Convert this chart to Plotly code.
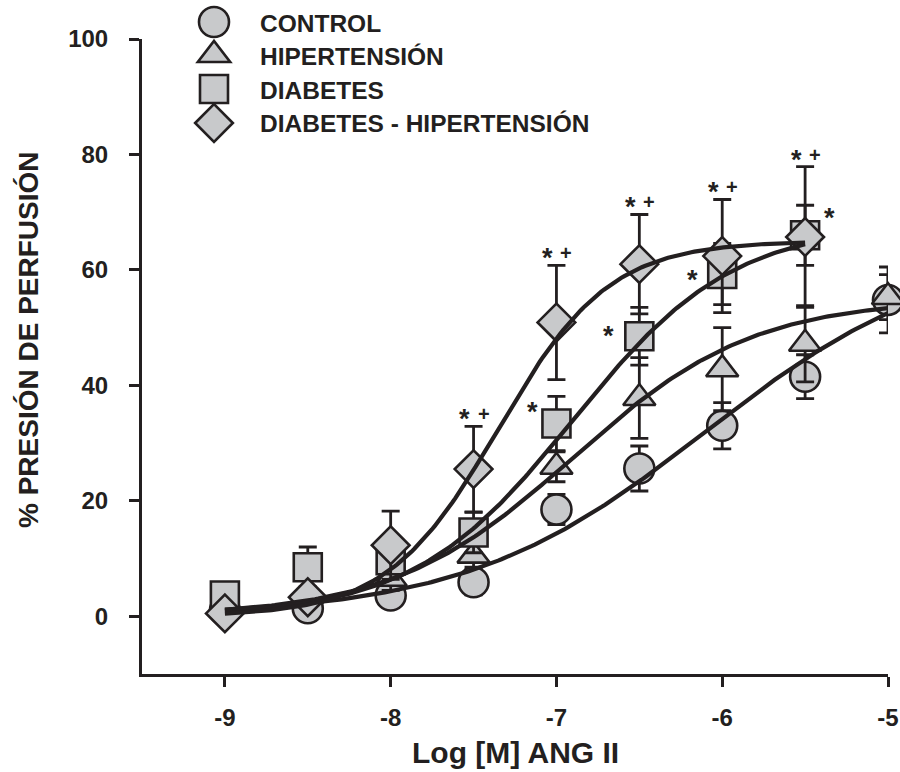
import plotly.graph_objects as go
import numpy as np

# ---------------- data ----------------
log_dose = [-9, -8.5, -8, -7.5, -7, -6.5, -6, -5.5, -5]
log_dose_diab = [-9, -8.5, -8, -7.5, -7, -6.5, -6, -5.5]

control = [1.0, 1.4, 3.6, 5.9, 18.5, 25.6, 33.0, 41.5, 54.8]
control_err = [0.8, 1.0, 1.6, 2.2, 2.6, 3.9, 4.0, 3.8, 5.7]

hipertension = [1.5, 3.6, 6.5, 10.5, 25.9, 37.8, 42.8, 47.2, 55.3]
hipertension_err = [0.8, 1.5, 2.0, 2.0, 2.6, 7.0, 7.2, 6.6, 3.9]

diabetes = [3.6, 8.5, 9.7, 14.5, 33.4, 48.5, 59.3, 66.0]
diabetes_err = [2.2, 3.5, 2.0, 3.5, 4.7, 5.0, 5.3, 5.2]

diab_hip = [0.5, 3.3, 12.3, 25.5, 50.9, 61.0, 62.4, 65.7]
diab_hip_err = [0.5, 1.5, 5.9, 7.4, 9.9, 8.6, 9.8, 12.2]

series_names = ["CONTROL", "HIPERTENSIÓN", "DIABETES", "DIABETES - HIPERTENSIÓN"]
series_symbols = ["circle", "triangle-up", "square", "diamond"]

# sigmoid (4-parameter logistic) fit parameters
fit_bottom = [0.0, 0.0, 0.0, 0.0]
fit_top = [64.0, 55.0, 68.0, 65.0]
fit_logec50 = [-6.1, -6.9, -6.9, -7.35]
fit_hill = [0.6, 0.8, 0.9, 1.3]
fit_start = [-9, -9, -9, -9]
fit_end = [-5, -5, -5.5, -5.5]

# significance marks
diab_hip_sig_x = [-7.5, -7, -6.5, -6, -5.5]
diab_sig_x = [-7, -6.5, -6, -5.5]

y_ticks = [0, 20, 40, 60, 80, 100]
x_ticks = [-9, -8, -7, -6, -5]
x_tick_labels = ["-9", "-8", "-7", "-6", "-5"]

# ---------------- style / layout geometry ----------------
INK = "#231f20"
FILL = "#c8c9cb"
FONT = "Liberation Sans"

W, H = 900, 772
L, R, T, B = 142, 12, 39, 98


def px_x(px):
    return (px - L) / (W - L - R)


def px_y(py):
    return (H - B - py) / (H - B - T)


fig = go.Figure()

xs_list = [log_dose, log_dose, log_dose_diab, log_dose_diab]
ys_list = [control, hipertension, diabetes, diab_hip]
es_list = [control_err, hipertension_err, diabetes_err, diab_hip_err]
sizes = [30, 28, 28, 29]

for name, sym, xs, ys, es, sz in zip(series_names, series_symbols, xs_list, ys_list, es_list, sizes):
    fig.add_trace(go.Scatter(
        x=xs, y=ys, mode="markers", name=name, showlegend=False,
        marker=dict(symbol=sym, size=sz, color=FILL, line=dict(color=INK, width=2.6)),
        error_y=dict(type="data", array=es, visible=True, color=INK, thickness=2.8, width=9),
        cliponaxis=False,
    ))

# fitted curves
for i in range(4):
    xc = np.linspace(fit_start[i], fit_end[i], 200)
    yc = fit_bottom[i] + (fit_top[i] - fit_bottom[i]) / (1 + 10 ** (fit_hill[i] * (fit_logec50[i] - xc)))
    fig.add_trace(go.Scatter(x=xc, y=yc, mode="lines", showlegend=False,
                             line=dict(color=INK, width=4.2), cliponaxis=False, hoverinfo="skip"))

# custom legend: symbol shapes sized in pixels, anchored in paper coordinates
leg_px_x = 214
leg_px_y = [22, 55, 89, 123]
leg_text_px_x = 258

r_c = 15.0                      # circle radius
r_t = 14.0                      # triangle
rt = r_t * 2 / np.sqrt(3)
r_s = 14.0                      # square half side
r_d = 14.5 * 1.3                # diamond half diagonal

sym_paths = {
    "triangle-up": f"M{-rt:.2f},{-r_t/2:.2f} L{rt:.2f},{-r_t/2:.2f} L0,{r_t:.2f} Z",
    "diamond": f"M{-r_d:.2f},0 L0,{r_d:.2f} L{r_d:.2f},0 L0,{-r_d:.2f} Z",
}

shapes = []
for sym, ly in zip(series_symbols, leg_px_y):
    base = dict(xref="paper", yref="paper", xsizemode="pixel", ysizemode="pixel",
                xanchor=px_x(leg_px_x), yanchor=px_y(ly),
                fillcolor=FILL, line=dict(color=INK, width=2.6), layer="above")
    if sym == "circle":
        shapes.append(dict(type="circle", x0=-r_c, x1=r_c, y0=-r_c, y1=r_c, **base))
    elif sym == "square":
        shapes.append(dict(type="rect", x0=-r_s, x1=r_s, y0=-r_s, y1=r_s, **base))
    else:
        shapes.append(dict(type="path", path=sym_paths[sym], **base))

annotations = []
for name, ly in zip(series_names, leg_px_y):
    annotations.append(dict(x=px_x(leg_text_px_x), y=px_y(ly + 1), xref="paper", yref="paper", text=name,
                            showarrow=False, xanchor="left", yanchor="middle",
                            font=dict(family=FONT, size=24.5, color=INK, weight="bold")))

# significance annotations for diabetes-hipertension (above upper caps)
for sx in diab_hip_sig_x:
    i = log_dose_diab.index(sx)
    top = diab_hip[i] + diab_hip_err[i]
    annotations.append(dict(x=sx, y=top, text="*", showarrow=False, xanchor="center", yanchor="middle",
                            xshift=-9, yshift=7,
                            font=dict(family=FONT, size=27, color=INK, weight="bold")))
    annotations.append(dict(x=sx, y=top, text="+", showarrow=False, xanchor="center", yanchor="middle",
                            xshift=10, yshift=12,
                            font=dict(family=FONT, size=20, color=INK, weight="bold")))

# significance annotations for diabetes
diab_star_dx = [-24, -31, -30, 24]
diab_star_dy = [11.5, 0.5, -6.5, 17.5]
for sx, dx, dy in zip(diab_sig_x, diab_star_dx, diab_star_dy):
    i = log_dose_diab.index(sx)
    annotations.append(dict(x=sx, y=diabetes[i], text="*", showarrow=False, xanchor="center",
                            yanchor="middle", xshift=dx, yshift=dy,
                            font=dict(family=FONT, size=27, color=INK, weight="bold")))

# axis titles
annotations.append(dict(x=px_x(515), y=px_y(752), xref="paper", yref="paper", text="Log [M] ANG II",
                        showarrow=False, xanchor="center", yanchor="middle",
                        font=dict(family=FONT, size=30, color=INK, weight="bold")))
annotations.append(dict(x=px_x(28), y=px_y(340), xref="paper", yref="paper", text="% PRESIÓN DE PERFUSIÓN",
                        showarrow=False, xanchor="center", yanchor="middle", textangle=-90,
                        font=dict(family=FONT, size=28, color=INK, weight="bold")))

axis_common = dict(showgrid=False, zeroline=False, showline=True, linecolor=INK, linewidth=3,
                   ticks="outside", ticklen=10, tickwidth=3, tickcolor=INK, automargin=False,
                   tickfont=dict(family=FONT, size=24, color=INK, weight="bold"))

fig.update_layout(
    width=W, height=H,
    margin=dict(l=L, r=R, t=T, b=B, autoexpand=False),
    paper_bgcolor="white", plot_bgcolor="white",
    showlegend=False,
    xaxis=dict(range=[-9.5, -5], tickvals=x_ticks, ticktext=x_tick_labels, ticklabelstandoff=10,
               **axis_common),
    yaxis=dict(range=[-10, 100], tickvals=y_ticks, ticklabelstandoff=16, **axis_common),
    shapes=shapes,
    annotations=annotations,
)

fig.write_html("out.html")
